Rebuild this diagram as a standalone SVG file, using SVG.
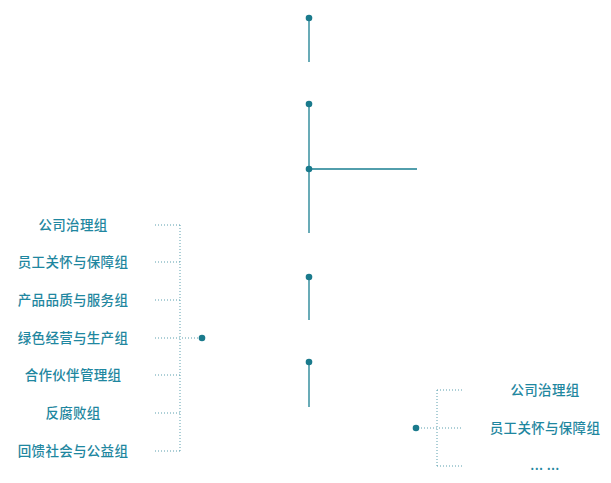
<svg xmlns="http://www.w3.org/2000/svg" width="611" height="483" viewBox="0 0 611 483">
<style>
.ln{stroke:#1a7f91;stroke-width:1.3;fill:none}
.dt{stroke:#5a9fae;stroke-width:1;stroke-dasharray:1 2;fill:none}
.dot{fill:#1a7a8c}
text{font-family:"Noto Sans CJK SC","Noto Sans",sans-serif;font-size:13.5px;font-weight:500;fill:#1f87a0;text-anchor:middle;letter-spacing:0.3px}
</style>
<rect width="611" height="483" fill="#fff"/>
<g id="connectors">
<path class="ln" d="M309 18V62M309 104V233M309 169H417M309 277V320M309 362V407"/>
<path class="dt" d="M180 225V451M155 225H180M155 262H180M155 300H180M155 338H200M155 375H180M155 413H180M155 451H180"/>
<path class="dt" d="M437 390V466M437 390H462M418 428H462M437 466H462"/>
</g>
<g id="n1"><circle class="dot" cx="309" cy="18" r="3.3"/></g>
<g id="n2"><circle class="dot" cx="309" cy="104" r="3.3"/></g>
<g id="n3"><circle class="dot" cx="309" cy="169" r="3.3"/></g>
<g id="n4"><circle class="dot" cx="309" cy="277" r="3.3"/></g>
<g id="n5"><circle class="dot" cx="309" cy="362" r="3.3"/></g>
<g id="left">
<circle class="dot" cx="202" cy="338" r="3.3"/>
<text x="73" y="230">公司治理组</text>
<text x="73" y="267">员工关怀与保障组</text>
<text x="73" y="305">产品品质与服务组</text>
<text x="73" y="343">绿色经营与生产组</text>
<text x="73" y="380">合作伙伴管理组</text>
<text x="73" y="418">反腐败组</text>
<text x="73" y="456">回馈社会与公益组</text>
</g>
<g id="right">
<circle class="dot" cx="416" cy="428" r="3.3"/>
<text x="545" y="395">公司治理组</text>
<text x="545" y="433">员工关怀与保障组</text>
<text x="545" y="470">... ...</text>
</g>
</svg>
